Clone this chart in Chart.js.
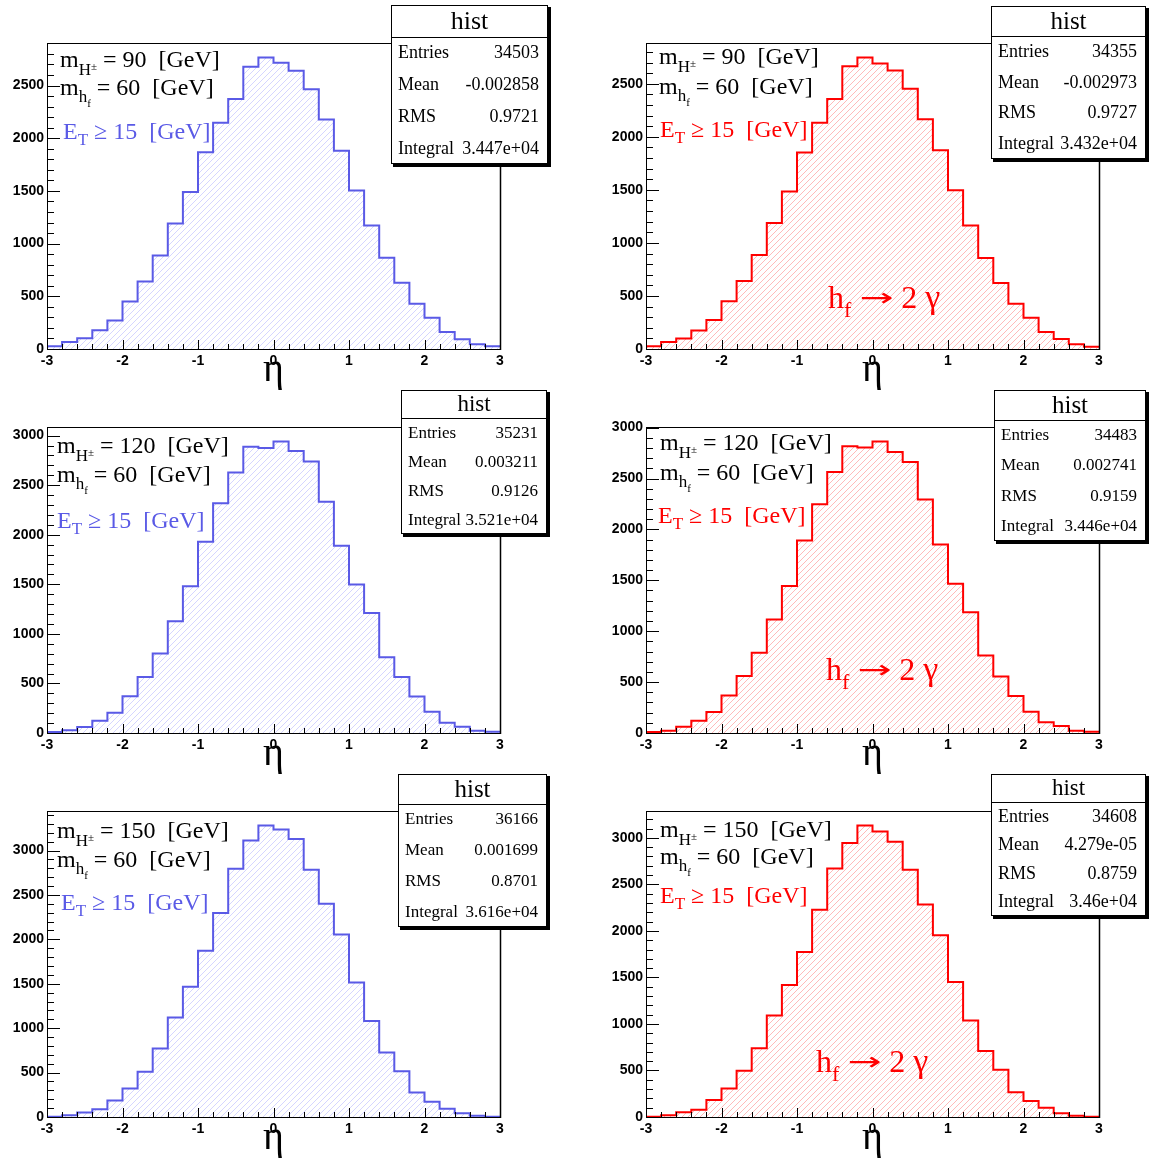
<!DOCTYPE html>
<html>
<head>
<meta charset="utf-8">
<script src="https://cdn.jsdelivr.net/npm/chart.js@4.4.1/dist/chart.umd.min.js"></script>
<style>
  html, body { margin: 0; padding: 0; background: #fff; }
  body { width: 1157px; height: 1159px; position: relative; overflow: hidden; }
  .panel { position: absolute; width: 558px; height: 391px; }
  .panel canvas { display: block; }
</style>
</head>
<body>
<div class="panel" style="left:0;top:0"><canvas id="c0" width="558" height="391"></canvas></div>
<div class="panel" style="left:599px;top:0"><canvas id="c1" width="558" height="391"></canvas></div>
<div class="panel" style="left:0;top:384px"><canvas id="c2" width="558" height="391"></canvas></div>
<div class="panel" style="left:599px;top:384px"><canvas id="c3" width="558" height="391"></canvas></div>
<div class="panel" style="left:0;top:768px"><canvas id="c4" width="558" height="391"></canvas></div>
<div class="panel" style="left:599px;top:768px"><canvas id="c5" width="558" height="391"></canvas></div>
<script>
// Lower edges of the 30 eta bins (the last bin closes at etaUpper)
const etaBinEdges = [-3.0, -2.8, -2.6, -2.4, -2.2, -2.0, -1.8, -1.6, -1.4, -1.2,
                     -1.0, -0.8, -0.6, -0.4, -0.2, 0.0, 0.2, 0.4, 0.6, 0.8,
                     1.0, 1.2, 1.4, 1.6, 1.8, 2.0, 2.2, 2.4, 2.6, 2.8];
const etaUpper = 3.0;

// Photon eta counts per bin, one array per (m_H+-, selection) pair
const eta90Blue  = [25, 66, 101, 177, 271, 451, 641, 887, 1190, 1490, 1866, 2146, 2371, 2677, 2765,
                    2715, 2639, 2465, 2178, 1881, 1503, 1171, 865, 628, 429, 297, 161, 92, 44, 25];
const eta90Red   = [25, 66, 100, 175, 273, 451, 642, 887, 1187, 1485, 1852, 2133, 2356, 2666, 2747,
                    2691, 2625, 2453, 2165, 1873, 1497, 1165, 858, 623, 426, 294, 160, 94, 44, 22];
const eta120Blue = [10, 27, 60, 124, 205, 372, 564, 802, 1128, 1480, 1930, 2319, 2628, 2889, 2876,
                    2940, 2846, 2738, 2332, 1889, 1497, 1211, 765, 564, 369, 215, 104, 64, 23, 13];
const eta120Red  = [10, 23, 62, 121, 206, 369, 559, 788, 1114, 1444, 1892, 2248, 2565, 2817, 2804,
                    2863, 2761, 2663, 2294, 1853, 1467, 1186, 761, 556, 363, 209, 105, 69, 23, 13];
const eta150Blue = [4, 19, 52, 86, 187, 322, 509, 771, 1119, 1467, 1871, 2297, 2795, 3113, 3281,
                    3236, 3131, 2783, 2402, 2054, 1515, 1081, 726, 516, 277, 172, 94, 41, 15, 4];
const eta150Red  = [4, 18, 50, 79, 182, 307, 497, 740, 1090, 1419, 1773, 2227, 2671, 2946, 3132,
                    3068, 2957, 2656, 2285, 1952, 1452, 1037, 708, 508, 265, 172, 100, 39, 14, 4];

const panelSeries = [eta90Blue, eta90Red, eta120Blue, eta120Red, eta150Blue, eta150Red];
const chargedHiggsMass = ['90', '90', '120', '120', '150', '150'];
const lightHiggsMass = '60';
const etCut = '15';

// Statistics box contents
const statsTitle = 'hist';
const statsEntries  = ['34503', '34355', '35231', '34483', '36166', '34608'];
const statsMean     = ['-0.002858', '-0.002973', '0.003211', '0.002741', '0.001699', '4.279e-05'];
const statsRms      = ['0.9721', '0.9727', '0.9126', '0.9159', '0.8701', '0.8759'];
const statsIntegral = ['3.447e+04', '3.432e+04', '3.521e+04', '3.446e+04', '3.616e+04', '3.46e+04'];

// ---- styling & placement ----
const BLUE = '#5a5ae6';
const RED = '#ff0000';
const BLUE_HATCH = 'rgba(80,80,255,0.24)';
const RED_HATCH = 'rgba(255,90,90,0.42)';
const SERIF = '"Liberation Serif", "Times New Roman", serif';
const SANS = '"Liberation Sans", Arial, sans-serif';

const panelLook = [
  { color: BLUE, hatch: BLUE_HATCH, box: [391, 5, 157, 159, 32], statFont: 18,
    text: { x: 60, ex: 63, b: [67, 95, 139] }, decay: null },
  { color: RED, hatch: RED_HATCH, box: [392, 6, 155, 153, 30], statFont: 18,
    text: { x: 60, ex: 61, b: [64, 94, 137] }, decay: { x: 229, b: 308 } },
  { color: BLUE, hatch: BLUE_HATCH, box: [401, 6, 146, 144, 28], statFont: 17,
    text: { x: 57, ex: 57, b: [69, 98, 144] }, decay: null },
  { color: RED, hatch: RED_HATCH, box: [395, 6, 152, 151, 30], statFont: 17,
    text: { x: 61, ex: 59, b: [66, 96, 139] }, decay: { x: 227, b: 296 } },
  { color: BLUE, hatch: BLUE_HATCH, box: [398, 6, 149, 153, 30], statFont: 17,
    text: { x: 57, ex: 61, b: [70, 99, 142] }, decay: null },
  { color: RED, hatch: RED_HATCH, box: [392, 6, 155, 142, 28], statFont: 18,
    text: { x: 61, ex: 61, b: [69, 96, 135] }, decay: { x: 217, b: 304 } }
];

function makeHatch(color) {
  const s = 6;
  const c = document.createElement('canvas');
  c.width = s; c.height = s;
  const g = c.getContext('2d');
  g.strokeStyle = color;
  g.lineWidth = 1;
  g.beginPath();
  g.moveTo(-1, s + 1); g.lineTo(s + 1, -1);
  g.moveTo(-1, 1); g.lineTo(1, -1);
  g.moveTo(s - 1, s + 1); g.lineTo(s + 1, s - 1);
  g.stroke();
  return g.createPattern(c, 'repeat');
}

// Draws a run of text pieces (sub/superscripts via size and dy); a piece with
// a width w is stretched horizontally to that width.
function drawRich(ctx, x, y, parts, color) {
  let cx = x;
  for (const p of parts) {
    ctx.font = p.s + 'px ' + (p.f || SERIF);
    ctx.fillStyle = p.c || color;
    const mw = ctx.measureText(p.t).width;
    if (p.w) {
      ctx.save();
      ctx.translate(cx, y + (p.dy || 0));
      ctx.scale(p.w / mw, 1);
      ctx.fillText(p.t, 0, 0);
      ctx.restore();
      cx += p.w;
    } else {
      ctx.fillText(p.t, cx, y + (p.dy || 0));
      cx += mw;
    }
  }
}

function decorPlugin(idx) {
  const look = panelLook[idx];
  return {
    id: 'rootDecor' + idx,
    afterDatasetsDraw(chart) {
      const { ctx, chartArea: a, scales: { x, y } } = chart;
      ctx.save();
      ctx.strokeStyle = '#000';
      ctx.lineWidth = 1;
      ctx.beginPath();
      // y ticks inside the frame: major every 500, minor every 100
      for (let v = 0; v <= y.max; v += 100) {
        const py = Math.round(y.getPixelForValue(v)) + 0.5;
        const len = v % 500 === 0 ? 13 : 7;
        ctx.moveTo(a.left, py);
        ctx.lineTo(a.left + len, py);
      }
      // x ticks: major at integers, minor at every bin edge
      for (let i = 0; i <= 30; i++) {
        const v = x.min + i * 0.2;
        const px = Math.round(x.getPixelForValue(v)) + 0.5;
        const len = i % 5 === 0 ? 9 : 5;
        ctx.moveTo(px, a.bottom);
        ctx.lineTo(px, a.bottom - len);
      }
      ctx.stroke();
      // frame
      ctx.strokeRect(Math.round(a.left) + 0.5, Math.round(a.top) + 0.5,
                     Math.round(a.right - a.left), Math.round(a.bottom - a.top));
      ctx.lineWidth = 1.5;
      ctx.beginPath();
      ctx.moveTo(Math.round(a.right) + 0.5, a.top);
      ctx.lineTo(Math.round(a.right) + 0.5, a.bottom + 1);
      ctx.stroke();
      ctx.restore();
    },
    afterDraw(chart) {
      const { ctx, chartArea: a } = chart;
      ctx.save();
      ctx.textAlign = 'left';
      ctx.textBaseline = 'alphabetic';
      const t = look.text;
      // parameter labels
      drawRich(ctx, t.x, t.b[0], [
        { t: 'm', s: 24 }, { t: 'H', s: 17, dy: 8 }, { t: '\u00B1', s: 11, dy: 3 },
        { t: ' = ' + chargedHiggsMass[idx] + '  [GeV]', s: 24 }
      ], '#000');
      drawRich(ctx, t.x, t.b[1], [
        { t: 'm', s: 24 }, { t: 'h', s: 17, dy: 7 }, { t: 'f', s: 11, dy: 12 },
        { t: ' = ' + lightHiggsMass + '  [GeV]', s: 24 }
      ], '#000');
      drawRich(ctx, t.ex, t.b[2], [
        { t: 'E', s: 24 }, { t: 'T', s: 17, dy: 6 },
        { t: ' \u2265 ' + etCut + '  [GeV]', s: 24 }
      ], look.color);
      if (look.decay) {
        drawRich(ctx, look.decay.x, look.decay.b, [
          { t: 'h', s: 32 }, { t: 'f', s: 22, dy: 9 }, { t: ' ', s: 32 },
          { t: '\u2192', s: 25, w: 34, dy: -2, f: '"DejaVu Sans", sans-serif' },
          { t: ' 2 ', s: 32 }, { t: '\u03B3', s: 34 }
        ], look.color);
      }
      // axis title
      ctx.font = '40px ' + SERIF;
      ctx.fillStyle = '#000';
      ctx.textAlign = 'center';
      ctx.fillText('\u03B7', (a.left + a.right) / 2, 381);

      // statistics box
      const [bx, by, bw, bh, th] = look.box;
      ctx.fillStyle = '#000';
      ctx.fillRect(bx + 2, by + 2, bw + 1, bh + 1);
      ctx.fillStyle = '#fff';
      ctx.fillRect(bx, by, bw, bh);
      ctx.strokeStyle = '#000';
      ctx.lineWidth = 1;
      ctx.strokeRect(bx + 0.5, by + 0.5, bw - 1, bh - 1);
      ctx.beginPath();
      ctx.moveTo(bx, Math.round(by + th) + 0.5);
      ctx.lineTo(bx + bw, Math.round(by + th) + 0.5);
      ctx.stroke();
      ctx.fillStyle = '#000';
      ctx.textAlign = 'center';
      ctx.font = Math.round(th * 0.82) + 'px ' + SERIF;
      ctx.fillText(statsTitle, bx + bw / 2, by + th * 0.76);
      const rows = [['Entries', statsEntries[idx]], ['Mean', statsMean[idx]],
                    ['RMS', statsRms[idx]], ['Integral', statsIntegral[idx]]];
      const rh = (bh - th) / 4;
      ctx.font = look.statFont + 'px ' + SERIF;
      rows.forEach((r, k) => {
        const yb = by + th + rh * (k + 0.5) + look.statFont * 0.3;
        ctx.textAlign = 'left';
        ctx.fillText(r[0], bx + 7, yb);
        ctx.textAlign = 'right';
        ctx.fillText(r[1], bx + bw - 9, yb);
      });
      ctx.restore();
    }
  };
}

const tickFont = { family: SANS, size: 14, weight: 'bold' };

panelSeries.forEach((series, idx) => {
  const look = panelLook[idx];
  // one point per lower bin edge, plus the closing edge at the upper limit
  const pts = etaBinEdges.map((e, i) => ({ x: e, y: series[i] }));
  pts.push({ x: etaUpper, y: series[series.length - 1] });
  const yMax = Math.max(...series) * 1.05;
  const canvas = document.getElementById('c' + idx);
  new Chart(canvas, {
    type: 'line',
    data: {
      datasets: [{
        data: pts,
        stepped: true,
        borderColor: look.color,
        borderWidth: 2,
        backgroundColor: makeHatch(look.hatch),
        fill: 'origin',
        pointRadius: 0,
        tension: 0
      }]
    },
    options: {
      responsive: false,
      animation: false,
      events: [],
      layout: { padding: { left: 0, top: 43, right: 58, bottom: 0 } },
      plugins: { legend: { display: false }, tooltip: { enabled: false }, title: { display: false } },
      scales: {
        x: {
          type: 'linear', min: etaBinEdges[0], max: etaUpper,
          grid: { display: false, drawTicks: false },
          border: { display: false },
          ticks: { stepSize: 1, padding: 4, font: tickFont, color: '#000', maxRotation: 0,
                   autoSkip: false, callback: v => String(v) },
          afterFit: s => { s.height = 42; }
        },
        y: {
          type: 'linear', min: 0, max: yMax,
          grid: { display: false, drawTicks: false },
          border: { display: false },
          ticks: { padding: 3, font: tickFont, color: '#000', autoSkip: false,
                   callback: v => String(v) },
          afterBuildTicks: s => {
            const ticks = [];
            for (let v = 0; v <= s.max; v += 500) ticks.push({ value: v });
            s.ticks = ticks;
          },
          afterFit: s => { s.width = 47; }
        }
      }
    },
    plugins: [decorPlugin(idx)]
  });
});
</script>
</body>
</html>
